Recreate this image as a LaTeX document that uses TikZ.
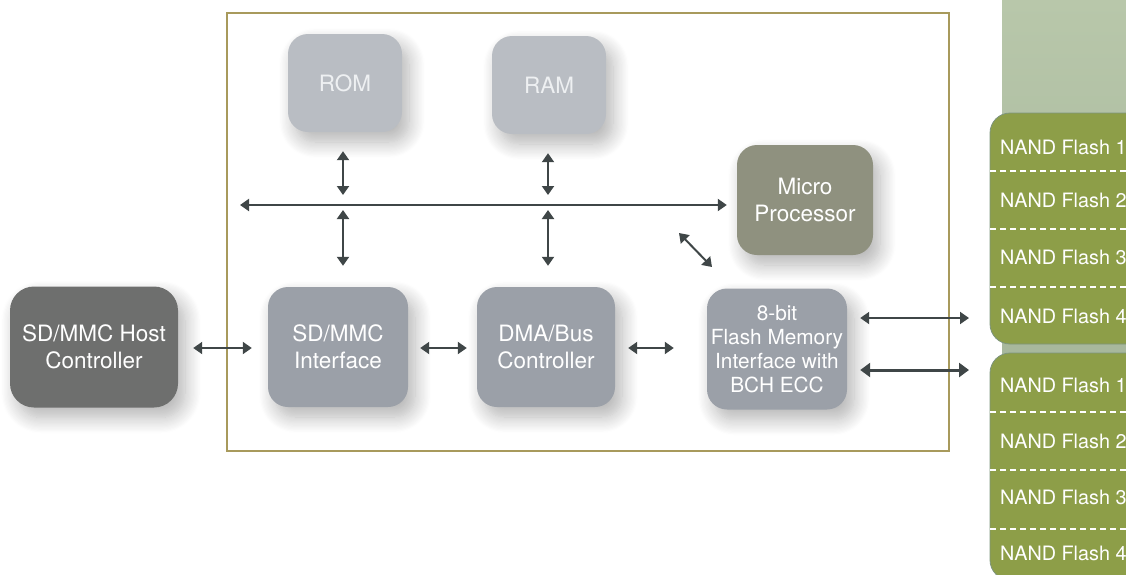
\documentclass[tikz,border=0pt]{standalone}
\usepackage{fontspec}
\setmainfont{TeX Gyre Heros}
\usetikzlibrary{arrows.meta,shadows.blur}
\definecolor{framec}{HTML}{A89A5C}
\definecolor{memc}{HTML}{B9BDC3}
\definecolor{memtxt}{HTML}{EEF0F2}
\definecolor{blockc}{HTML}{9BA0A8}
\definecolor{cpuc}{HTML}{8F917F}
\definecolor{hostc}{HTML}{6E6F6E}
\definecolor{arrowc}{HTML}{3F4647}
\definecolor{nandc}{HTML}{8D9E48}
\definecolor{nandedge}{HTML}{7E957E}
\definecolor{bartop}{HTML}{B8C7AA}
\definecolor{barbot}{HTML}{9DAE95}
\begin{document}
\begin{tikzpicture}[x=1pt,y=-1pt,
  box/.style={rounded corners=20pt, align=center, text=white, inner sep=0pt,
    font=\fontsize{22.5}{27}\selectfont,
    blur shadow={shadow xshift=7pt, shadow yshift=-10pt, shadow opacity=30, shadow blur radius=16pt, shadow blur steps=14}},
  biarr/.style={draw=arrowc, line width=2pt, {Triangle[length=9pt,width=12pt]}-{Triangle[length=9pt,width=12pt]}},
  bigarr/.style={draw=arrowc, line width=3pt, {Triangle[length=10pt,width=14pt]}-{Triangle[length=10pt,width=14pt]}},
  nand/.style={anchor=west, text=white, inner sep=0pt, font=\fontsize{19.8}{22}\selectfont},
  sep/.style={draw=white, line width=1.5pt, dash pattern=on 6pt off 4pt}
]
\useasboundingbox (0,0) rectangle (1126,574);
\clip (0,0) rectangle (1126,574);

% right-hand bar and NAND stacks
\shade[top color=bartop, bottom color=barbot] (1002,0) rectangle (1126,574);
\path[fill=nandc, draw=nandedge, line width=0.8pt, rounded corners=20pt] (990,113) rectangle (1160,344);
\path[fill=nandc, draw=nandedge, line width=0.8pt, rounded corners=20pt] (990,353) rectangle (1160,580);
\foreach \y in {171,229,287,412,470,529} \draw[sep] (990,\y) -- (1126,\y);
\node[nand] (n1) at (1000,147) {NAND Flash 1};
\node[nand] (n2) at (1000,200) {NAND Flash 2};
\node[nand] (n3) at (1000,257) {NAND Flash 3};
\node[nand] (n4) at (1000,316) {NAND Flash 4};
\node[nand] (m1) at (1000,385) {NAND Flash 1};
\node[nand] (m2) at (1000,441) {NAND Flash 2};
\node[nand] (m3) at (1000,497) {NAND Flash 3};
\node[nand] (m4) at (1000,553) {NAND Flash 4};

% controller frame
\draw[framec, line width=2pt] (227,13) rectangle (949,451);

% blocks
\node[box, fill=memc, text=memtxt, minimum width=114pt, minimum height=98pt] (rom) at (345,83) {ROM};
\node[box, fill=memc, text=memtxt, minimum width=114pt, minimum height=98pt] (ram) at (549,85) {RAM};
\node[box, fill=cpuc, minimum width=136pt, minimum height=110pt] (cpu) at (805,200) {Micro\\Processor};
\node[box, fill=hostc, rounded corners=24pt, minimum width=168pt, minimum height=121pt] (host) at (94,347) {SD/MMC Host\\Controller};
\node[box, fill=blockc, minimum width=140pt, minimum height=120pt] (sdi) at (338,347) {SD/MMC\\Interface};
\node[box, fill=blockc, minimum width=138pt, minimum height=120pt] (dma) at (546,347) {DMA/Bus\\Controller};
\node[box, fill=blockc, minimum width=140pt, minimum height=121pt, font=\fontsize{20.8}{24}\selectfont] (fif) at (777,349) {8-bit\\Flash Memory\\Interface with\\BCH ECC};

% bus
\coordinate (busL) at (240,205);
\draw[biarr, shorten >=10pt] (busL) -- (busL -| cpu.west);
\coordinate (b1) at (343,205);
\coordinate (b2) at (548,205);
\draw[biarr, shorten <=19pt, shorten >=10pt] (b1 |- rom.south) -- (b1);
\draw[biarr, shorten <=19pt, shorten >=10pt] (b2 |- ram.south) -- (b2);
\draw[biarr, shorten <=5pt, shorten >=21pt] (b1) -- (b1 |- sdi.north);
\draw[biarr, shorten <=5pt, shorten >=21pt] (b2) -- (b2 |- dma.north);
\coordinate (d1) at (679,233);
\coordinate (d2) at (712,267);
\draw[biarr] (d1) -- (d2);

% horizontal links
\draw[biarr, shorten <=15pt, shorten >=16pt] (host.east |- 0,348) -- (sdi.west |- 0,348);
\draw[biarr, shorten <=12pt, shorten >=10pt] (sdi.east |- 0,348) -- (dma.west |- 0,348);
\draw[biarr, shorten <=13pt, shorten >=33pt] (dma.east |- 0,348) -- (fif.west |- 0,348);
\coordinate (f1) at (969,318);
\coordinate (f2) at (969,370);
\draw[biarr, shorten <=13pt] (fif.east |- f1) -- (f1);
\draw[bigarr, shorten <=13pt] (fif.east |- f2) -- (f2);
\end{tikzpicture}
\end{document}
